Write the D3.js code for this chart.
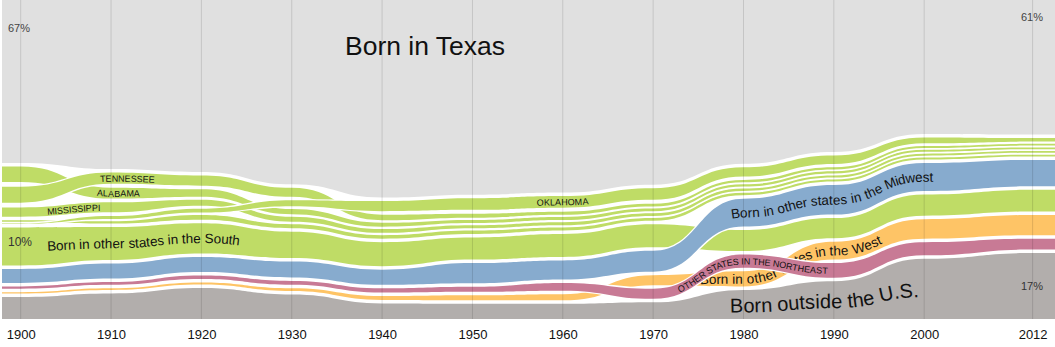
<!DOCTYPE html>
<html><head><meta charset="utf-8">
<script src="https://cdn.jsdelivr.net/npm/d3@7"></script>
<style>
body{margin:0;background:#fff;}
svg{display:block;font-family:"Liberation Sans",Arial,sans-serif;}
</style></head>
<body>
<svg id="chart" width="1055" height="347"></svg>
<script>
// ---------- DATA (percent of Texas residents) ----------
const years = [1900,1910,1920,1930,1940,1950,1960,1970,1980,1990,2000,2012];
const bornInTexas    = [67,70,70,71,72,71,71,70,66,64,60,61];
const bornOutsideUS  = [5.7,6.6,8.0,6.3,4.0,3.9,3.9,4.3,7.5,9.7,15.5,17.0];
const otherNortheast = [0.6,0.7,0.9,1.0,1.1,1.3,2.0,2.6,3.4,3.8,3.4,2.8];
const otherWest      = [0.3,0.4,0.5,0.7,1.0,1.3,1.6,2.6,3.9,4.6,5.0,5.2];
const otherMidwest   = [3.6,3.9,3.9,4.1,3.9,5.2,4.9,5.4,7.2,7.6,7.2,6.8];
const otherSouth     = [9.8,8.5,7.8,6.8,6.2,5.7,5.9,5.9,5.4,5.2,5.5,5.6];
const oklahoma       = [0.1,0.8,1.0,1.6,2.6,3.0,3.0,3.0,2.4,2.2,1.5,0.9];
const tennessee      = [4.1,2.9,2.6,2.3,1.4,1.0,0.8,0.7,0.6,0.55,0.5,0.45];
const alabama        = [4.0,2.8,1.9,1.3,1.0,0.8,0.8,0.7,0.6,0.55,0.5,0.45];
const mississippi    = [2.4,2.6,1.6,1.3,1.0,0.8,0.8,0.7,0.6,0.55,0.5,0.45];
const louisiana      = [0.4,0.6,1.2,1.0,0.9,0.9,0.8,0.7,0.6,0.55,0.5,0.45];
const tickLabels = ["1900","1910","1920","1930","1940","1950","1960","1970","1980","1990","2000","2012"];

// stacking order per census year, bottom -> top
const stackOrder = [
  ["F","W","NE","MW","S","OK","LA","MS","TN","AL"],
  ["F","W","NE","MW","S","LA","OK","MS","AL","TN"],
  ["F","W","NE","MW","S","LA","OK","MS","AL","TN"],
  ["F","W","NE","MW","S","LA","MS","AL","OK","TN"],
  ["F","W","NE","MW","S","LA","MS","AL","TN","OK"],
  ["F","W","NE","MW","S","LA","MS","AL","TN","OK"],
  ["F","W","NE","MW","S","LA","MS","AL","TN","OK"],
  ["F","NE","W","MW","S","LA","MS","AL","TN","OK"],
  ["F","W","NE","S","MW","LA","MS","AL","TN","OK"],
  ["F","NE","W","S","MW","LA","MS","AL","TN","OK"],
  ["F","NE","W","S","MW","LA","MS","AL","TN","OK"],
  ["F","NE","W","S","MW","LA","MS","AL","TN","OK"]
];

// ---------- STYLE ----------
const W = 1055, H = 347, plotBottom = 319, left = 2;
const GREEN="#bfdc66", BLUE="#87abce", PINK="#c87a95", ORANGE="#fec466", GRAY="#b2aeac", TXGRAY="#e0e0e0";
const bands = {
  F:  {vals: bornOutsideUS,  color: GRAY},
  NE: {vals: otherNortheast, color: PINK},
  W:  {vals: otherWest,      color: ORANGE},
  MW: {vals: otherMidwest,   color: BLUE},
  S:  {vals: otherSouth,     color: GREEN},
  OK: {vals: oklahoma,       color: GREEN, small: true},
  TN: {vals: tennessee,      color: GREEN, small: true},
  AL: {vals: alabama,        color: GREEN, small: true},
  MS: {vals: mississippi,    color: GREEN, small: true},
  LA: {vals: louisiana,      color: GREEN, small: true}
};

const x = d3.scaleLinear().domain([1900, 2012]).range([20.7, 1032.6]);
const h = d3.scaleLinear().domain([0, 100]).range([0, 388]);

function gap(a, b, i) {
  if (bands[a].small && bands[b].small) {
    const m = Math.max(bands[a].vals[i], bands[b].vals[i]);
    return Math.min(5, 1.5 + 0.8 * m);
  }
  return 3.5;
}

// layout
const pos = {};
Object.keys(bands).forEach(k => pos[k] = []);
pos.TX = [];
years.forEach((yr, i) => {
  let cur = plotBottom, prev = null;
  stackOrder[i].forEach(k => {
    if (prev) cur -= gap(prev, k, i);
    const y0 = cur, y1 = cur - h(bands[k].vals[i]);
    pos[k][i] = {x: x(yr), y0, y1};
    cur = y1; prev = k;
  });
  cur -= 3.5;
  pos.TX[i] = {x: x(yr), y0: cur, y1: cur - h(bornInTexas[i])};
});
function ext(arr) {
  return [{...arr[0], x: left - 2}, ...arr, {...arr[arr.length-1], x: W + 2}];
}

const svg = d3.select("#chart");
const defs = svg.append("defs");
defs.append("clipPath").attr("id","clip").append("rect")
  .attr("x", left).attr("y", 0).attr("width", W - left).attr("height", plotBottom);

const area = d3.area().x(d => d.x).y0(d => d.y0).y1(d => d.y1).curve(d3.curveBumpX);
const mid = d3.line().x(d => d.x).y(d => (d.y0 + d.y1) / 2).curve(d3.curveBumpX);

const g = svg.append("g").attr("clip-path", "url(#clip)");
// Texas background region
g.append("path").attr("d", area(ext(pos.TX).map(d => ({x: d.x, y0: d.y0, y1: -50})))).attr("fill", TXGRAY);

// center-line paths for labels
Object.keys(bands).forEach(k => {
  defs.append("path").attr("id", "mid-" + k).attr("d", mid(ext(pos[k])));
});
// baseline for the big "outside the U.S." label: centre of the grey band, pushed down
defs.append("path").attr("id", "mid-FL")
  .attr("d", d3.line().x(d => d.x).y(d => (d.y1 + plotBottom) / 2 + 8).curve(d3.curveBumpX)(ext(pos.F)));

function offsetAtX(id, px) {
  const node = document.getElementById(id);
  let lo = 0, hi = node.getTotalLength();
  for (let it = 0; it < 40; it++) {
    const m = (lo + hi) / 2;
    if (node.getPointAtLength(m).x < px) lo = m; else hi = m;
  }
  return lo;
}

function drawBand(k) {
  const d = area(ext(pos[k]));
  g.append("path").attr("d", d).attr("fill", "none").attr("stroke", "#fff").attr("stroke-width", 2.4);
  g.append("path").attr("d", d).attr("fill", bands[k].color);
}
function pathLabel(id, text, startX, size, opts = {}) {
  const t = g.append("text")
    .attr("font-size", size)
    .attr("fill", opts.fill || "#111")
    .attr("dy", opts.dy != null ? opts.dy : "0.36em")
    .style("font-family", opts.family || null)
    .style("letter-spacing", opts.ls || null);
  t.append("textPath").attr("href", "#" + id)
    .attr("startOffset", offsetAtX(id, startX))
    .text(text);
}

const smallFont = "'Liberation Sans Narrow','Arial Narrow',Arial,sans-serif";
// drawing order
drawBand("F");
pathLabel("mid-FL", "Born outside the U.S.", 730, 20, {dy: 0});
["LA","MS","AL","TN","OK"].forEach(drawBand);
drawBand("S");
pathLabel("mid-TN", "TENNESSEE", 100, 9, {family: smallFont, dy: "0.38em"});
pathLabel("mid-AL", "ALABAMA", 97, 9, {family: smallFont, dy: "0.38em"});
pathLabel("mid-MS", "MISSISSIPPI", 47, 9, {family: smallFont, dy: "0.38em"});
pathLabel("mid-OK", "OKLAHOMA", 537, 9, {family: smallFont, dy: "0.38em"});
pathLabel("mid-S", "Born in other states in the South", 47, 13.5);
drawBand("MW");
pathLabel("mid-MW", "Born in other states in the Midwest", 731, 13.5);
drawBand("W");
pathLabel("mid-W", "Born in other states in the West", 700, 13.5);
drawBand("NE");
pathLabel("mid-NE", "OTHER STATES IN THE NORTHEAST", 678, 9, {family: smallFont, dy: "0.38em"});

// gridlines
svg.append("g").selectAll("line").data(years).join("line")
  .attr("x1", d => x(d)).attr("x2", d => x(d))
  .attr("y1", 0).attr("y2", plotBottom)
  .attr("stroke", "#000").attr("stroke-opacity", 0.12).attr("stroke-width", 1);

// axis
const axis = d3.axisBottom(x).tickValues(years).tickFormat((d, i) => tickLabels[i]).tickSize(0).tickPadding(11);
const ax = svg.append("g").attr("transform", `translate(0,${plotBottom})`).call(axis);
ax.select(".domain").remove();
ax.selectAll("text").attr("font-size", 13).attr("fill", "#111").style("font-family", "'Liberation Sans',Arial,sans-serif");

// annotations
svg.append("text").attr("x", 345).attr("y", 55).attr("font-size", 26.5).attr("fill", "#111").text("Born in Texas");
svg.append("text").attr("x", 8).attr("y", 32).attr("font-size", 11).attr("fill", "#444").text("67%");
svg.append("text").attr("x", 1021).attr("y", 21).attr("font-size", 11).attr("fill", "#444").text("61%");
svg.append("text").attr("x", 8).attr("y", 246).attr("font-size", 12).attr("fill", "#333").text("10%");
svg.append("text").attr("x", 1021).attr("y", 290).attr("font-size", 11).attr("fill", "#333").text("17%");
</script>
</body></html>
